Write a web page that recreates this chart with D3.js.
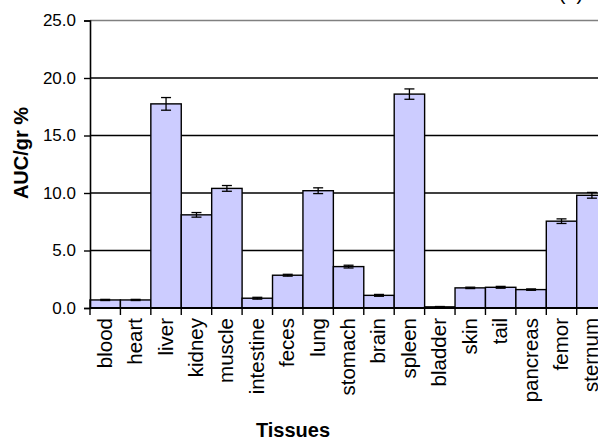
<!DOCTYPE html>
<html>
<head>
<meta charset="utf-8">
<script src="https://cdn.jsdelivr.net/npm/d3@7"></script>
<style>
  body { margin: 0; background: #fff; }
  svg { display: block; font-family: "Liberation Sans", Arial, sans-serif; }
</style>
</head>
<body>
<div id="chart"></div>
<script>
// tissue distribution, AUC per gram (%)
var tissues = ["blood", "heart", "liver", "kidney", "muscle", "intestine", "feces", "lung",
               "stomach", "brain", "spleen", "bladder", "skin", "tail", "pancreas", "femor", "sternum"];
var auc = [0.7, 0.7, 17.75, 8.1, 10.4, 0.85, 2.85, 10.2, 3.6, 1.1, 18.6, 0.1, 1.75, 1.8, 1.6, 7.55, 9.8];
var aucErr = [0.05, 0.05, 0.55, 0.2, 0.25, 0.08, 0.08, 0.25, 0.12, 0.08, 0.45, 0.03, 0.06, 0.08, 0.06, 0.2, 0.25];
var yTicks = [0, 5, 10, 15, 20, 25];

var W = 598, H = 444;
var plotLeft = 90, plotTop = 20.5, plotBottom = 308;
var bandW = 30.42;

var svg = d3.select("#chart").append("svg")
    .attr("width", W)
    .attr("height", H);

var x = d3.scaleBand()
    .domain(tissues)
    .range([plotLeft, plotLeft + bandW * tissues.length])
    .padding(0);

var y = d3.scaleLinear()
    .domain([0, 25])
    .range([plotBottom, plotTop]);

// gridlines (top one is the grey plot border)
svg.selectAll(".grid")
    .data(yTicks.filter(function (d) { return d > 0; }))
    .enter().append("line")
    .attr("class", "grid")
    .attr("x1", plotLeft).attr("x2", W)
    .attr("y1", function (d) { return y(d); })
    .attr("y2", function (d) { return y(d); })
    .attr("stroke", function (d) { return d === 25 ? "#808080" : "#000"; })
    .attr("stroke-width", 1.4);

// bars
var data = tissues.map(function (t, i) { return { name: t, v: auc[i], e: aucErr[i] }; });

svg.selectAll(".bar")
    .data(data)
    .enter().append("rect")
    .attr("class", "bar")
    .attr("x", function (d) { return x(d.name); })
    .attr("width", x.bandwidth())
    .attr("y", function (d) { return y(d.v); })
    .attr("height", function (d) { return y(0) - y(d.v); })
    .attr("fill", "#ccccff")
    .attr("stroke", "#000")
    .attr("stroke-width", 1.4);

// error bars
var eb = svg.selectAll(".err")
    .data(data)
    .enter().append("g")
    .attr("class", "err")
    .attr("stroke", "#000")
    .attr("stroke-width", 1.3);

eb.append("line")
    .attr("x1", function (d) { return x(d.name) + x.bandwidth() / 2; })
    .attr("x2", function (d) { return x(d.name) + x.bandwidth() / 2; })
    .attr("y1", function (d) { return y(d.v + d.e); })
    .attr("y2", function (d) { return y(d.v - d.e); });

[1, -1].forEach(function (s) {
    eb.append("line")
        .attr("x1", function (d) { return x(d.name) + x.bandwidth() / 2 - 5; })
        .attr("x2", function (d) { return x(d.name) + x.bandwidth() / 2 + 5; })
        .attr("y1", function (d) { return y(d.v + s * d.e); })
        .attr("y2", function (d) { return y(d.v + s * d.e); });
});

// y axis
var yAxis = svg.append("g")
    .attr("transform", "translate(" + plotLeft + ",0)")
    .call(d3.axisLeft(y).tickValues(yTicks).tickSize(6).tickPadding(8)
        .tickFormat(d3.format(".1f")));
yAxis.select(".domain").attr("stroke", "#000").attr("stroke-width", 1.6);
yAxis.selectAll(".tick line").attr("stroke", "#000").attr("stroke-width", 1.4);
yAxis.selectAll(".tick text")
    .attr("font-size", 17)
    .attr("font-family", "Liberation Sans, Arial, sans-serif")
    .attr("fill", "#000");

// x axis: ticks at category boundaries
var bounds = tissues.map(function (t) { return x(t); });
bounds.push(x.range()[1]);
svg.append("line")
    .attr("x1", plotLeft).attr("x2", W)
    .attr("y1", plotBottom).attr("y2", plotBottom)
    .attr("stroke", "#000").attr("stroke-width", 2);
svg.selectAll(".xtick")
    .data(bounds)
    .enter().append("line")
    .attr("x1", function (d) { return d; })
    .attr("x2", function (d) { return d; })
    .attr("y1", plotBottom).attr("y2", plotBottom + 7)
    .attr("stroke", "#000").attr("stroke-width", 1.4);

svg.selectAll(".xlab")
    .data(tissues)
    .enter().append("text")
    .attr("class", "xlab")
    .attr("transform", function (d) {
        return "translate(" + (x(d) + x.bandwidth() / 2 + 6.5) + "," + (plotBottom + 10) + ") rotate(-90)";
    })
    .attr("text-anchor", "end")
    .attr("font-size", 20.5)
    .text(function (d) { return d; });

// axis titles
svg.append("text")
    .attr("transform", "translate(28,153) rotate(-90)")
    .attr("text-anchor", "middle")
    .attr("font-size", 20)
    .attr("font-weight", "bold")
    .text("AUC/gr %");

svg.append("text")
    .attr("x", 293)
    .attr("y", 437)
    .attr("text-anchor", "middle")
    .attr("font-size", 20)
    .attr("font-weight", "bold")
    .text("Tissues");

// panel label, cut off at the top edge
svg.append("text")
    .attr("x", 571)
    .attr("y", 0)
    .attr("text-anchor", "middle")
    .attr("font-size", 20)
    .text("(b)");
</script>
</body>
</html>
